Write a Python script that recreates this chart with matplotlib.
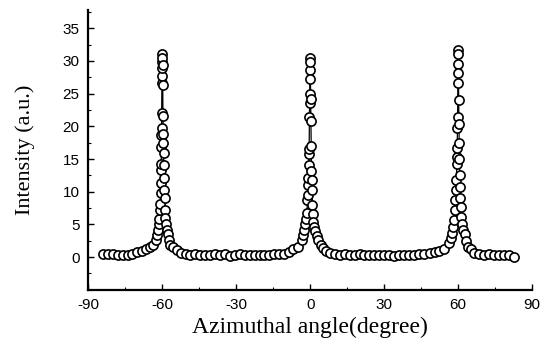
import numpy as np
import matplotlib
matplotlib.use("Agg")
import matplotlib.pyplot as plt
import matplotlib.ticker as mticker

# ── data (degree, a.u.) ─────────────────────────────────────────────────────
angle_base_left = [-84, -82, -80, -78, -76, -74, -72, -70, -68.3, -66.6, -65.0, -63.6, -62.6]
inten_base_left = [0.55, 0.5, 0.45, 0.35, 0.3, 0.4, 0.55, 0.75, 1.0, 1.3, 1.6, 1.9, 2.6]

angle_peak_m60 = [-61.9, -61.6, -61.3, -61.1, -60.9, -60.7, -60.6, -60.5, -60.4, -60.35,
                  -60.3, -60.25, -60.2, -60.15, -60.1, -60.05, -60.0, -59.95, -59.9,
                  -59.85, -59.8, -59.75, -59.65, -59.55, -59.5, -59.4, -59.3, -59.2,
                  -59.1, -59.0, -58.9, -58.7, -58.5, -58.2, -57.8, -57.4, -56.6, -55.5,
                  -54.0, -52.5]
inten_peak_m60 = [3.4, 4.1, 5.0, 5.8, 7.2, 8.2, 9.8, 11.3, 13.3, 14.3,
                  16.8, 18.7, 19.7, 22.1, 26.6, 27.7, 28.9, 29.9, 31.0,
                  30.4, 29.4, 26.4, 21.6, 18.9, 17.5, 15.9, 14.1, 12.1,
                  10.3, 9.0, 7.2, 6.0, 5.0, 4.2, 3.5, 2.6, 1.9, 1.6,
                  1.1, 0.7]

angle_base_mid1 = [-50.5, -48.5, -46.5, -44.5, -42.5, -40.5, -38.5, -36.5, -34.5, -32.5,
                   -30.5, -28.5, -26.5, -24.5, -22.5, -20.5, -18.5, -16.5, -14.5, -12.5,
                   -10.5, -8.7, -6.9, -5.0]
inten_base_mid1 = [0.5, 0.4, 0.45, 0.3, 0.4, 0.35, 0.45, 0.3, 0.5, 0.2,
                   0.35, 0.45, 0.3, 0.4, 0.25, 0.35, 0.4, 0.3, 0.45, 0.5,
                   0.55, 0.8, 1.3, 1.5]

angle_peak_0 = [-3.4, -2.8, -2.3, -1.9, -1.6, -1.3, -1.1, -0.9, -0.8, -0.7, -0.6, -0.5,
                -0.4, -0.3, -0.2, -0.15, -0.1, -0.05,
                0.05, 0.1, 0.2, 0.3, 0.4, 0.5, 0.6, 0.75, 0.9, 1.1, 1.3, 1.6, 2.0,
                2.6, 3.2, 4.2, 5.3, 6.6, 8.0]
inten_peak_0 = [2.6, 3.4, 4.1, 5.0, 5.8, 6.8, 8.7, 9.5, 11.0, 12.1, 14.1, 15.8,
                16.5, 21.5, 23.5, 25.0, 28.6, 30.4,
                29.8, 27.2, 24.2, 20.8, 17.0, 13.2, 11.8, 10.2, 8.0, 6.6, 5.4, 4.6, 4.0,
                3.3, 2.6, 1.8, 1.4, 0.9, 0.6]

angle_base_mid2 = [10, 12, 14, 16, 18, 20, 22, 24, 26, 28, 30, 32, 34, 36, 38, 40,
                   42, 44, 46, 48.4, 50.4, 52.2, 54.4]
inten_base_mid2 = [0.45, 0.35, 0.5, 0.3, 0.4, 0.55, 0.3, 0.4, 0.25, 0.35, 0.4, 0.3,
                   0.2, 0.35, 0.25, 0.4, 0.3, 0.45, 0.5, 0.6, 0.8, 1.0, 1.3]

angle_peak_60 = [56.3, 57.0, 57.5, 58.0, 58.4, 58.7, 58.9, 59.1, 59.25, 59.4, 59.5,
                 59.6, 59.7, 59.75, 59.85, 59.9, 59.95,
                 60.05, 60.1, 60.2, 60.3, 60.4, 60.5, 60.6, 60.75, 60.9, 61.1, 61.3,
                 61.6, 62.0, 62.6, 63.2, 64.0, 65.0, 66.5]
inten_peak_60 = [2.2, 3.0, 3.7, 4.6, 5.7, 7.2, 8.7, 10.2, 11.8, 14.3, 15.3,
                 16.7, 19.8, 21.4, 26.6, 29.6, 31.7,
                 31.0, 28.2, 24.0, 20.4, 17.4, 15.0, 12.6, 10.8, 9.0, 7.6, 6.2,
                 5.0, 4.2, 3.6, 2.4, 1.6, 1.2, 0.7]

angle_base_right = [68.5, 70.5, 72.5, 74.5, 76.5, 78.5, 80.5, 82.5]
inten_base_right = [0.5, 0.35, 0.45, 0.3, 0.4, 0.35, 0.3, 0.0]

xticks = [-90, -60, -30, 0, 30, 60, 90]
yticks = [0, 5, 10, 15, 20, 25, 30, 35]

angle = np.concatenate([angle_base_left, angle_peak_m60, angle_base_mid1, angle_peak_0,
                        angle_base_mid2, angle_peak_60, angle_base_right])
inten = np.concatenate([inten_base_left, inten_peak_m60, inten_base_mid1, inten_peak_0,
                        inten_base_mid2, inten_peak_60, inten_base_right])

# ── plot ─────────────────────────────────────────────────────────────────────
fig = plt.figure(figsize=(5.47, 3.45), dpi=100)
ax = fig.add_axes([0.161, 0.159, 0.812, 0.812])

ax.plot(angle, inten, "-", color="black", linewidth=0.9, zorder=2)
ax.plot(angle, inten, "o", markersize=6.6, markerfacecolor="white",
        markeredgecolor="black", markeredgewidth=1.2, zorder=3)

ax.set_xlim(-90, 90)
ax.set_ylim(-5.05, 37.8)
ax.set_xticks(xticks)
ax.set_yticks(yticks)
ax.xaxis.set_minor_locator(mticker.MultipleLocator(15))
ax.yaxis.set_minor_locator(mticker.MultipleLocator(2.5))

tick_font = {"family": "Liberation Sans", "size": 11}
ax.set_xticklabels([str(t) for t in xticks], fontdict=tick_font)
ax.set_yticklabels([str(t) for t in yticks], fontdict=tick_font)
ax.tick_params(which="major", direction="in", length=4, width=1.0, pad=6)
ax.tick_params(which="minor", direction="in", length=2.5, width=0.8)

ax.spines[["top", "right"]].set_visible(False)
ax.spines["left"].set_linewidth(1.6)
ax.spines["bottom"].set_linewidth(1.6)

ax.set_xlabel("Azimuthal angle(degree)", family="Liberation Serif", fontsize=17, labelpad=3)
ax.set_ylabel("Intensity (a.u.)", family="Liberation Serif", fontsize=16, labelpad=20)

plt.savefig("out.png", dpi=100)
plt.close()
